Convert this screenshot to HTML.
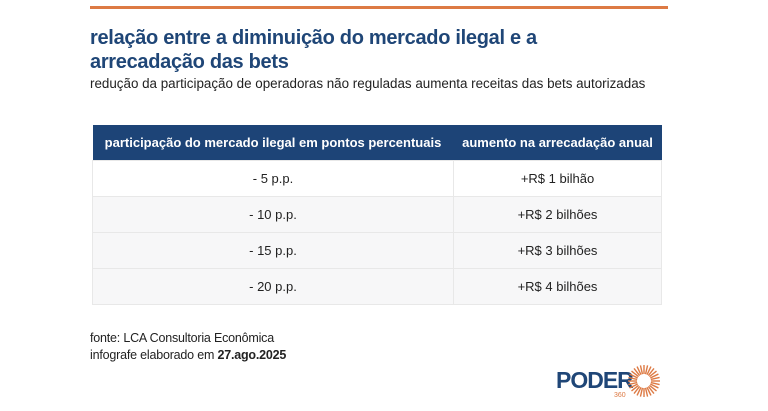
<!DOCTYPE html>
<html><head><meta charset="utf-8"><style>
body{margin:0;width:768px;height:411px;background:#fff;font-family:"Liberation Sans",sans-serif;position:relative;overflow:hidden}
.abs{position:absolute}
#bar{left:90px;top:6px;width:578px;height:3px;background:#dd7a44}
#title{left:90px;top:26px;font-size:20px;font-weight:bold;color:#1f4677;line-height:24px;letter-spacing:-0.3px;white-space:nowrap}
#sub{left:90px;top:76px;font-size:13.4px;color:#222;white-space:nowrap}
table{position:absolute;left:92px;top:125px;width:570px;border-collapse:collapse;font-size:13px}
th{background:#1d4477;color:#fff;height:35px;font-weight:bold;padding:0}
td{height:35px;text-align:center;color:#222;border:1px solid #e8e8e8;padding:0}
tr.g td{background:#f7f7f8}
#foot{left:90px;top:330px;font-size:12.5px;color:#222;line-height:17px;letter-spacing:-0.2px}
#logo{left:556px;top:364px}
</style></head><body>
<div id="bar" class="abs"></div>
<div id="title" class="abs">relação entre a diminuição do mercado ilegal e a<br>arrecadação das bets</div>
<div id="sub" class="abs">redução da participação de operadoras não reguladas aumenta receitas das bets autorizadas</div>
<table>
<tr><th style="width:361px">participação do mercado ilegal em pontos percentuais</th><th>aumento na arrecadação anual</th></tr>
<tbody id="tb"></tbody>
</table>
<div id="foot" class="abs">fonte: LCA Consultoria Econômica<br>infografe elaborado em <b>27.ago.2025</b></div>
<svg id="logo" class="abs" width="110" height="36">
<text x="0" y="24" font-family="Liberation Sans" font-weight="bold" font-size="23" fill="#1f4677" letter-spacing="-1">PODER</text>
<text x="58" y="33" font-family="Liberation Sans" font-size="7" fill="#dd7a44">360</text>
<g id="rays" transform="translate(88,17)"></g>
</svg>
<script>
const shares=["- 5 p.p.","- 10 p.p.","- 15 p.p.","- 20 p.p."];
const revenues=["+R$ 1 bilhão","+R$ 2 bilhões","+R$ 3 bilhões","+R$ 4 bilhões"];
const tb=document.getElementById('tb');
shares.forEach((s,i)=>{
 const tr=document.createElement('tr');
 
 
 if(i>0)tr.className='g';
 const a=document.createElement('td');a.textContent=s;
 
 
 const b=document.createElement('td');b.textContent=revenues[i];
 
 
 tr.appendChild(a);tr.appendChild(b);tb.appendChild(tr);
});
const g=document.getElementById('rays');
for(let k=0;k<28;k++){const an=k/28*2*Math.PI;const l=document.createElementNS('http://www.w3.org/2000/svg','line');
l.setAttribute('x1',7*Math.cos(an));l.setAttribute('y1',7*Math.sin(an));l.setAttribute('x2',16*Math.cos(an));l.setAttribute('y2',16*Math.sin(an));
l.setAttribute('stroke','#dd7a44');l.setAttribute('stroke-width','1.4');g.appendChild(l);}
</script>
</body></html>
